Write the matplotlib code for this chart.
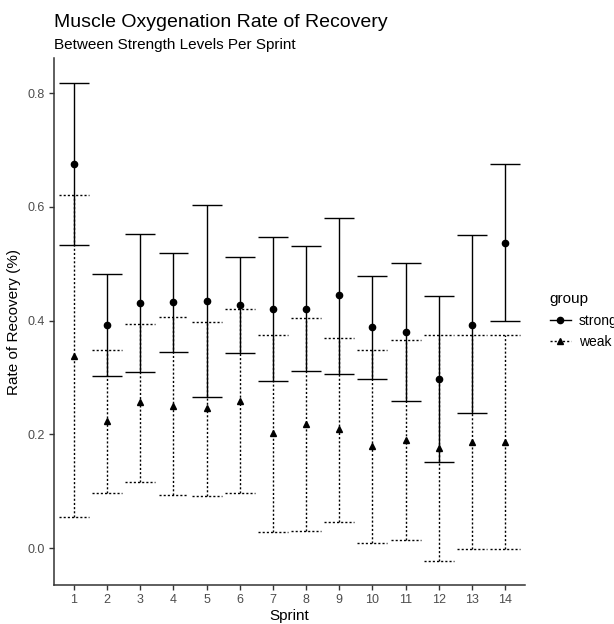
import numpy as np
import matplotlib
matplotlib.use("Agg")
import matplotlib.pyplot as plt
from matplotlib.lines import Line2D

plt.rcParams['font.family'] = ['Liberation Sans', 'DejaVu Sans']

# Data
sprints = np.arange(1, 15)

strong_mean = [0.675, 0.393, 0.430, 0.432, 0.434, 0.428, 0.421, 0.421, 0.444, 0.389, 0.380, 0.297, 0.393, 0.537]
strong_low = [0.533, 0.302, 0.309, 0.345, 0.265, 0.343, 0.294, 0.311, 0.306, 0.298, 0.258, 0.151, 0.238, 0.400]
strong_high = [0.817, 0.481, 0.552, 0.518, 0.603, 0.512, 0.547, 0.531, 0.581, 0.479, 0.501, 0.443, 0.550, 0.675]

weak_mean = [0.338, 0.224, 0.256, 0.250, 0.246, 0.259, 0.202, 0.218, 0.209, 0.180, 0.190, 0.176, 0.186, 0.186]
weak_low = [0.055, 0.097, 0.116, 0.094, 0.092, 0.097, 0.028, 0.030, 0.046, 0.009, 0.014, -0.022, -0.001, -0.002]
weak_high = [0.621, 0.348, 0.394, 0.406, 0.398, 0.421, 0.374, 0.404, 0.370, 0.348, 0.365, 0.374, 0.374, 0.374]

yticks = [0.0, 0.2, 0.4, 0.6, 0.8]
cap = 0.45  # half width of the error bar caps
dotted = (0, (1.5, 1.5))

fig = plt.figure(figsize=(6.14, 6.24), dpi=100)
ax = fig.add_axes([0.088, 0.0625, 0.767, 0.8445])

# strong group: solid bars, circles
ax.vlines(sprints, strong_low, strong_high, colors='black', linewidth=1.0)
ax.hlines(strong_low, sprints - cap, sprints + cap, colors='black', linewidth=1.0)
ax.hlines(strong_high, sprints - cap, sprints + cap, colors='black', linewidth=1.0)
ax.plot(sprints, strong_mean, 'o', color='black', markersize=4.5)

# weak group: dotted bars, triangles
ax.vlines(sprints, weak_low, weak_high, colors='black', linewidth=1.0, linestyles=dotted)
ax.hlines(weak_low, sprints - cap, sprints + cap, colors='black', linewidth=1.0, linestyles=dotted)
ax.hlines(weak_high, sprints - cap, sprints + cap, colors='black', linewidth=1.0, linestyles=dotted)
ax.plot(sprints, weak_mean, '^', color='black', markersize=4.5)

ax.set_xlim(0.4, 14.6)
ax.set_ylim(-0.065, 0.8615)
ax.set_xticks(sprints)
ax.set_xticklabels([str(s) for s in sprints])
ax.set_yticks(yticks)
ax.set_yticklabels([f'{t:.1f}' for t in yticks])

for side in ['top', 'right']:
    ax.spines[side].set_visible(False)
for side in ['left', 'bottom']:
    ax.spines[side].set_color('#333333')
    ax.spines[side].set_linewidth(1.1)
ax.tick_params(axis='both', length=3.5, width=1.0, color='#333333',
               labelcolor='#4d4d4d', labelsize=9, pad=3)

ax.set_xlabel('Sprint', fontsize=11, labelpad=2)
ax.set_ylabel('Rate of Recovery (%)', fontsize=11, labelpad=5)

fig.text(0.088, 0.956, 'Muscle Oxygenation Rate of Recovery', fontsize=14, va='baseline', ha='left')
fig.text(0.088, 0.922, 'Between Strength Levels Per Sprint', fontsize=11, va='baseline', ha='left')

handles = [
    Line2D([], [], color='black', linestyle='-', marker='o', markersize=4.5, linewidth=1.0),
    Line2D([], [], color='black', linestyle=dotted, marker='^', markersize=4.5, linewidth=1.0),
]
fig.legend(handles, ['strong', 'weak'], title='group', loc='upper left',
           bbox_to_anchor=(0.875, 0.552), frameon=False, fontsize=10,
           title_fontsize=11, handlelength=1.5, handletextpad=0.6,
           labelspacing=0.55, alignment='left')

fig.savefig('out.png', dpi=100)
